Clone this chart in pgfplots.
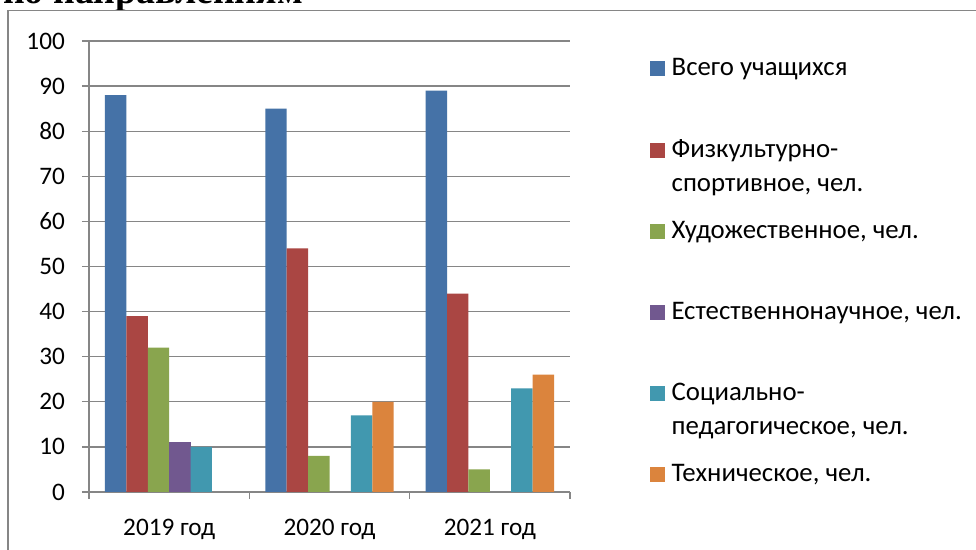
\documentclass[border=0pt]{standalone}
\usepackage{pgfplots}
\pgfplotsset{compat=1.18}
\usepackage{fontspec}
\setmainfont{Carlito}
\newfontfamily\titlefont{Liberation Serif}
\definecolor{cBlue}{HTML}{4572A7}
\definecolor{cRed}{HTML}{AA4643}
\definecolor{cGreen}{HTML}{89A54E}
\definecolor{cPurple}{HTML}{71588F}
\definecolor{cTeal}{HTML}{4198AF}
\definecolor{cOrange}{HTML}{DB843D}
\definecolor{cGrid}{HTML}{868686}
\newcommand{\tck}{\fontsize{25.2bp}{30bp}\selectfont}
\newcommand{\lbl}{\fontsize{26.8bp}{34bp}\selectfont}
\begin{document}
\begin{tikzpicture}[x=1bp,y=1bp]
\path[use as bounding box] (0,0) rectangle (976,550);
\clip (0,0) rectangle (976,550);
\node[anchor=base west, inner sep=0pt, font=\titlefont\bfseries\fontsize{37.8bp}{40bp}\selectfont] at (3,546.8) {по направлениям};
\draw[cGrid, line width=1.5bp, fill=white] (8,539.3) rectangle (990,-20);
\pgfplotsset{/pgfplots/ybar legend/.style={/pgfplots/legend image code/.code={\fill[##1] (0bp,0bp) rectangle (15bp,15bp);}}}
\begin{axis}[
  at={(89bp,58bp)}, anchor=south west,
  scale only axis, width=481bp, height=451bp,
  xmin=0, xmax=3, ymin=0, ymax=100,
  ybar=0pt, bar width=21.4bp,
  axis lines*=left,
  axis line style={cGrid, line width=1.3bp},
  xtick={0.5,1.5,2.5},
  xticklabels={2019 год, 2020 год, 2021 год},
  minor xtick={0,1,2,3},
  major x tick style={draw=none},
  ytick={0,10,...,100},
  tick align=outside,
  tick style={cGrid, line width=1.3bp},
  major tick length=7bp, minor tick length=7bp,
  ymajorgrids, grid style={cGrid, line width=1.3bp},
  /pgf/number format/assume math mode=true,
  ticklabel style={font=\tck, text=black},
  yticklabel style={inner sep=0pt, xshift=-17bp},
  xticklabel style={inner sep=0pt, yshift=-20bp},
  legend style={at={(rel axis cs:1.1663,0.9657)}, anchor=north west,
    draw=none, fill=none, inner sep=0pt, row sep=58.3bp, column sep=4.5bp,
    font=\lbl,
    cells={anchor=base west, inner sep=0pt}},
]
\addplot[fill=cBlue, draw=none] coordinates {(0.5,88) (1.5,85) (2.5,89)};
\addlegendentry{Всего учащихся}
\addplot[fill=cRed, draw=none] coordinates {(0.5,39) (1.5,54) (2.5,44)};
\addlegendentry{\parbox[t]{10cm}{\lbl Физкультурно-\\спортивное, чел.}}
\addplot[fill=cGreen, draw=none] coordinates {(0.5,32) (1.5,8) (2.5,5)};
\addlegendentry{Художественное, чел.}
\addplot[fill=cPurple, draw=none] coordinates {(0.5,11)};
\addlegendentry{Естественнонаучное, чел.}
\addplot[fill=cTeal, draw=none] coordinates {(0.5,10) (1.5,17) (2.5,23)};
\addlegendentry{\parbox[t]{10cm}{\lbl Социально-\\педагогическое, чел.}}
\addplot[fill=cOrange, draw=none] coordinates {(1.5,20) (2.5,26)};
\addlegendentry{Техническое, чел.}
\end{axis}
\end{tikzpicture}
\end{document}
